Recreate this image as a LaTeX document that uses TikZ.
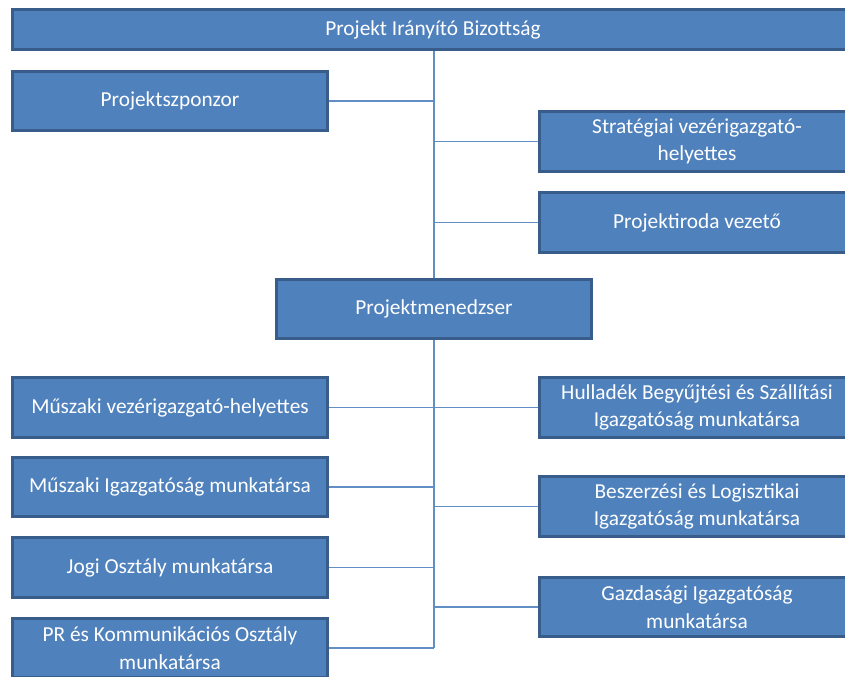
\documentclass[tikz,border=0pt]{standalone}
\usepackage{fontspec}
\setmainfont{Carlito}
\definecolor{boxblue}{HTML}{4F81BD}
\definecolor{edgeblue}{HTML}{385D8A}
\begin{document}
\begin{tikzpicture}[x=0.75pt,y=-0.75pt,
  box/.style={draw=edgeblue,line width=2.2pt,fill=boxblue,text=white,minimum width=236.5pt,minimum height=44.5pt,align=center,inner sep=2pt,font=\fontsize{16}{20.5}\selectfont},
  wire/.style={draw=boxblue!90,line width=1.4pt}]
\clip (0,0) rectangle (845,677);
\node[box,minimum width=631pt,minimum height=30pt] (pib) at (433,29.5) {Projekt Irányító Bizottság};
\node[box] (szp) at (170,101) {Projektszponzor};
\node[box] (strat) at (697,141.5) {Stratégiai vezérigazgató-\\helyettes};
\node[box] (iroda) at (697,222.5) {Projektiroda vezető};
\node[box] (pm) at (434,309) {Projektmenedzser};
\node[box] (muvez) at (170,407.5) {Műszaki vezérigazgató-helyettes};
\node[box] (muig) at (170,487) {Műszaki Igazgatóság munkatársa};
\node[box] (jogi) at (170,567.5) {Jogi Osztály munkatársa};
\node[box] (pr) at (170,648) {PR és Kommunikációs Osztály\\munkatársa};
\node[box] (hull) at (697,407.5) {Hulladék Begyűjtési és Szállítási\\Igazgatóság munkatársa};
\node[box] (besz) at (697,506.5) {Beszerzési és Logisztikai\\Igazgatóság munkatársa};
\node[box] (gazd) at (697,607) {Gazdasági Igazgatóság\\munkatársa};
\draw[wire] (pm.north |- pib.south) -- (pm.north);
\draw[wire] (szp.east) -- (szp.east -| pm.north);
\draw[wire] (strat.west) -- (strat.west -| pm.north);
\draw[wire] (iroda.west) -- (iroda.west -| pm.north);
\draw[wire] (pm.south) -- (pm.south |- pr.east);
\foreach \n in {muvez,muig,jogi,pr} \draw[wire] (\n.east) -- (\n.east -| pm.south);
\foreach \n in {hull,besz,gazd} \draw[wire] (\n.west) -- (\n.west -| pm.south);
\end{tikzpicture}
\end{document}
